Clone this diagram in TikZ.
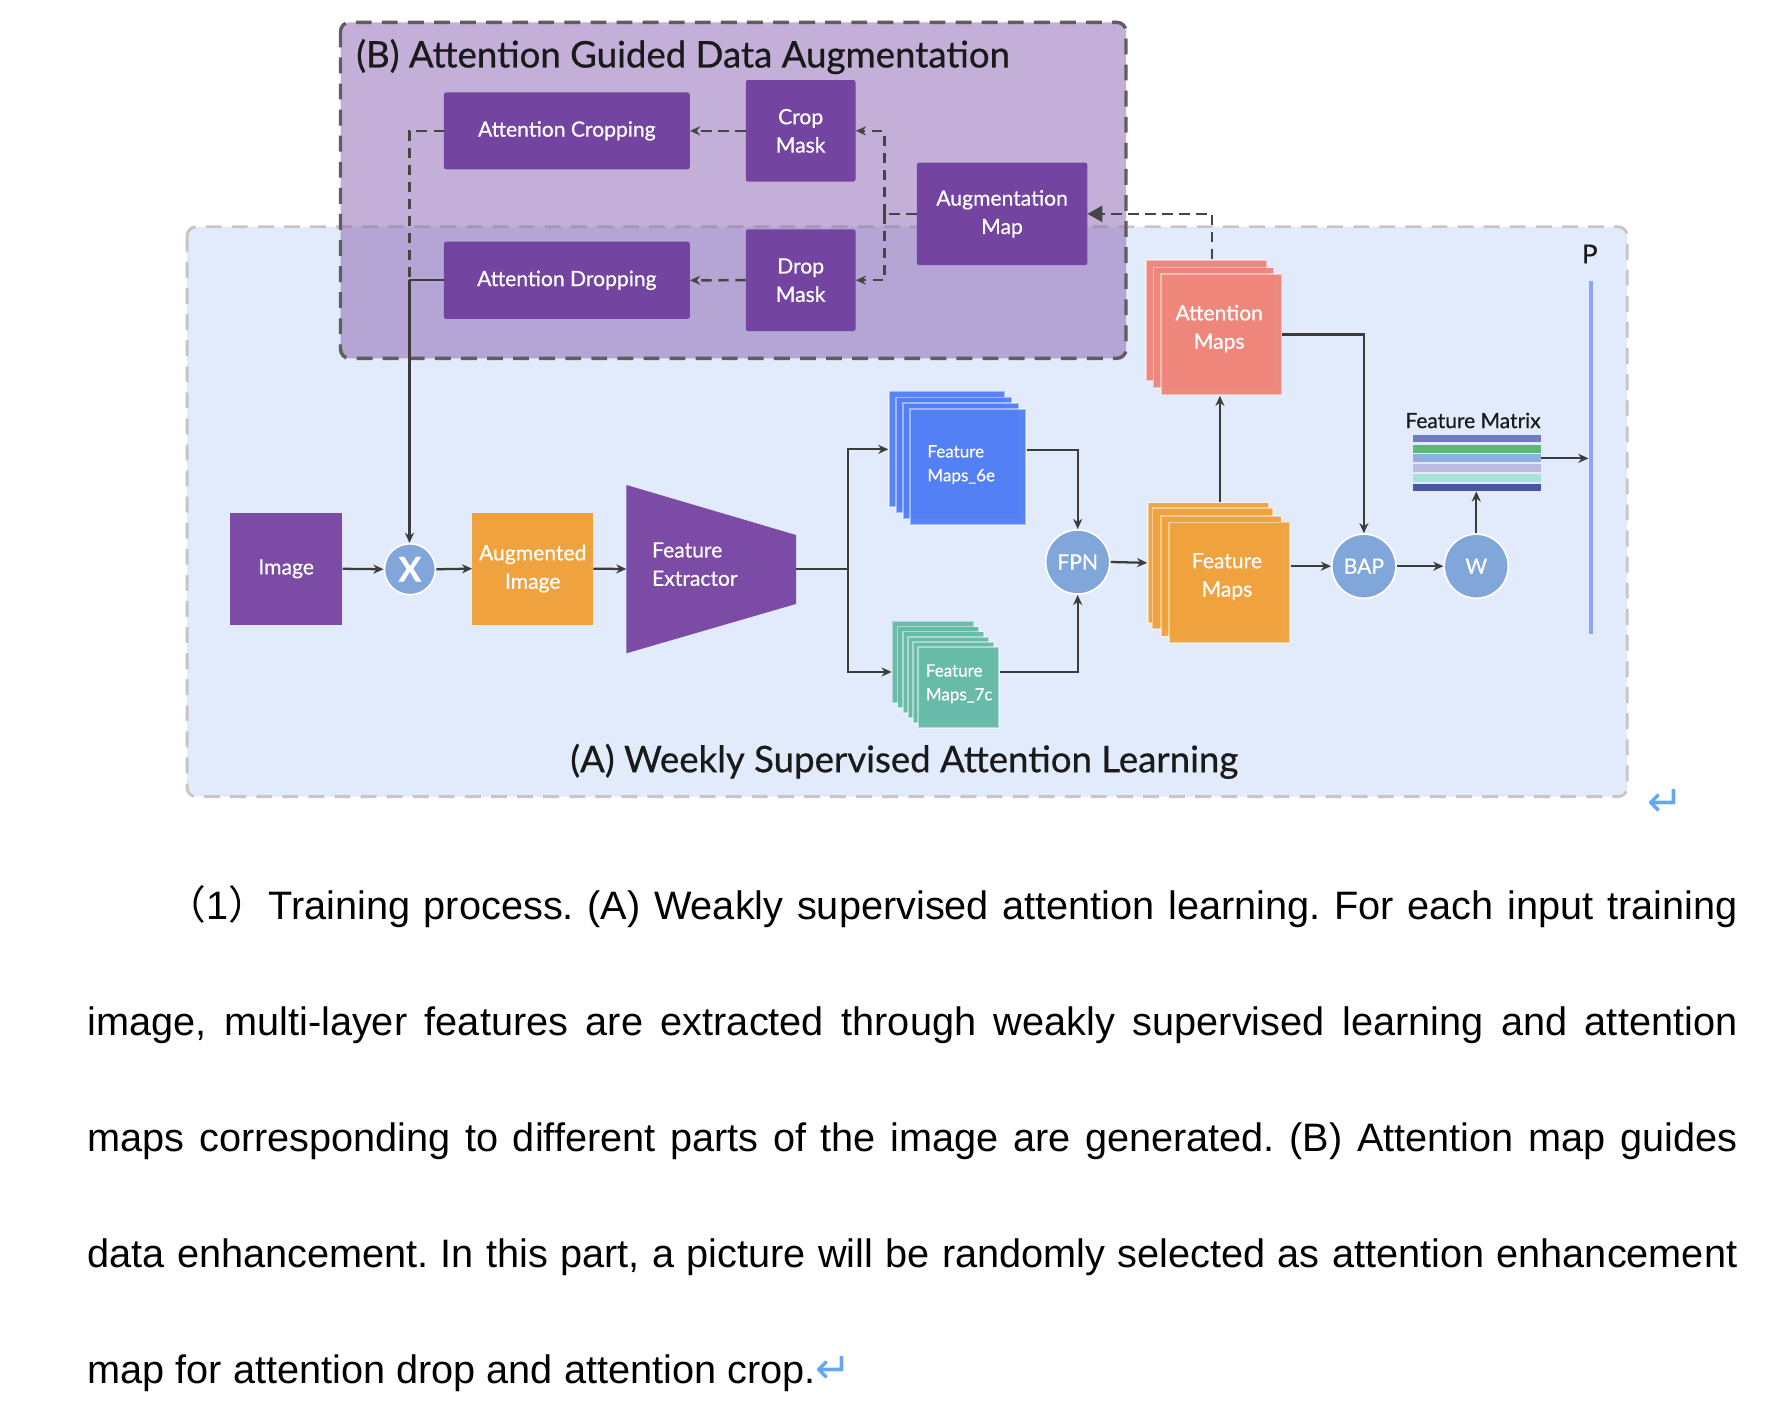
\documentclass[tikz,border=0pt]{standalone}
\usepackage{fontspec}
\setmainfont{Lato}[FakeBold=0.6]
\newfontfamily\parafont{Liberation Sans}
\newfontfamily\cjkfont{Noto Sans CJK SC}
\newfontfamily\symbfont{DejaVu Sans}
\usetikzlibrary{arrows.meta,calc}

\definecolor{regA}{HTML}{E1EBFB}
\definecolor{regAborder}{HTML}{C6C6C6}
\definecolor{regB}{HTML}{8961B1}
\definecolor{regBborder}{HTML}{5E5E5E}
\definecolor{dpurple}{HTML}{7445A0}
\definecolor{mpurple}{HTML}{7B4BA6}
\definecolor{orng}{HTML}{F0A23E}
\definecolor{cblue}{HTML}{80A6DA}
\definecolor{fblue}{HTML}{5480F5}
\definecolor{fteal}{HTML}{68BBA9}
\definecolor{salmon}{HTML}{EF867C}
\definecolor{pbarc}{HTML}{8FA5F5}
\definecolor{lnk}{HTML}{3C3C3C}
\definecolor{dashc}{HTML}{454545}
\definecolor{retblue}{HTML}{62A8F5}
\definecolor{sa}{HTML}{6E7CC3}
\definecolor{sb}{HTML}{5BB877}
\definecolor{sc}{HTML}{8EAFE0}
\definecolor{sd}{HTML}{BBBBE0}
\definecolor{se}{HTML}{A7E1D8}
\definecolor{sf}{HTML}{4A569F}
\definecolor{ink}{HTML}{1A1A1A}

\newcommand\lblfont{\fontsize{18.6}{25}\selectfont}
\newcommand\smlfont{\fontsize{15}{21}\selectfont}
\newcommand\ttlfont{\fontsize{32.3}{36}\selectfont}
\newcommand\parfont{\parafont\fontsize{35}{40}\selectfont\frenchspacing}

\tikzset{
  conn/.style={draw=lnk, line width=2pt},
  arr/.style={conn, -{Stealth[length=9pt,width=8pt]}},
  dconn/.style={draw=dashc, line width=2.2pt, dash pattern=on 9pt off 6pt},
  darr/.style={dconn, -{Stealth[length=9pt,width=8pt]}},
  pbox/.style={rectangle, rounded corners=2pt, fill=dpurple, text=white, font=\lblfont, align=center, inner sep=0pt},
  mbox/.style={rectangle, text=white, font=\lblfont, align=center, inner sep=0pt},
  circ/.style={circle, fill=cblue, draw=white, line width=1.5pt, text=white, font=\lblfont, inner sep=0pt, minimum size=56.6pt},
  card/.style={rectangle, draw=white, draw opacity=0.45, line width=1.5pt, inner sep=0pt, anchor=north west, fill opacity=0.96},
  stripe/.style={rectangle, inner sep=0pt, minimum width=112.8pt, minimum height=6.8pt, anchor=north west},
  txt/.style={inner sep=0pt, text=ink},
}

\begin{document}
\begin{tikzpicture}[x=1pt,y=-1pt]
\useasboundingbox (0,0) rectangle (1568,1243);
\fill[white] (0,0) rectangle (1568,1243);

% region A
\draw[fill=regA, draw=regAborder, line width=2.5pt, dash pattern=on 14pt off 9pt, rounded corners=8pt]
  (165,200) rectangle (1435,702.5);
% region B
\fill[regB, fill opacity=0.5, rounded corners=8pt] (300.3,19.7) rectangle (993,316);
\draw[draw=regBborder, line width=3pt, dash pattern=on 14pt off 9pt, rounded corners=8pt]
  (300.3,19.7) rectangle (993,316);

\node[txt, anchor=base west, font=\ttlfont] (titleB) at (314,59.5) {(B) Attention Guided Data Augmentation};
\node[txt, anchor=base, font=\ttlfont] (titleA) at (797.5,681) {(A) Weekly Supervised Attention Learning};

% B boxes
\node[pbox, minimum width=216.8pt, minimum height=67.9pt] (crop) at (499.9,115.4) {Attention Cropping};
\node[pbox, minimum width=96.8pt, minimum height=89.7pt] (cropmask) at (706.1,115.4) {Crop\\Mask};
\node[pbox, minimum width=216.8pt, minimum height=68.2pt] (drop) at (499.9,247.2) {Attention Dropping};
\node[pbox, minimum width=96.8pt, minimum height=89.7pt] (dropmask) at (706.1,247.1) {Drop\\Mask};
\node[pbox, minimum width=150.3pt, minimum height=90.3pt] (augmap) at (883.7,188.6) {Augmentation\\Map};

% main row
\node[mbox, fill=mpurple, minimum width=99.2pt, minimum height=99pt] (image) at (252.4,501.6) {Image};
\node[circ, minimum size=45pt, font=\fontsize{30}{30}\selectfont\bfseries] (xop) at (361.5,502) {X};
\node[mbox, fill=orng, minimum width=106.4pt, minimum height=99pt] (augimg) at (469.8,501.5) {Augmented\\Image};
\fill[mpurple] (552.4,427.7) -- (702,471.8) -- (702,532.6) -- (552.4,576.1) -- cycle;
\coordinate (fein) at (552.4,501.8);
\coordinate (feout) at (702,501.8);
\node[inner sep=0pt, anchor=west, text=white, font=\lblfont, align=left] (fe) at (574.9,497.5) {Feature\\Extractor};

% Feature Maps_6e stack
\foreach \i in {0,1,2}
  \node[card, fill=fblue, minimum width=102pt, minimum height=102pt] (f6e\i) at ({783.4+6.17*\i},{344.5+5.2*\i}) {};
\node[card, fill=fblue, minimum width=102pt, minimum height=102pt] (f6e) at (801.9,360.1) {};
\node[inner sep=0pt, anchor=west, text=white, font=\smlfont, align=left] (f6et) at (817.7,409.8) {Feature\\Maps\_6e};

% Feature Maps_7c stack
\foreach \i in {0,...,4}
  \node[card, fill=fteal, minimum width=71.5pt, minimum height=71.7pt] (f7c\i) at ({786.3+4.52*\i},{547.3+4.48*\i}) {};
\node[card, fill=fteal, minimum width=71.5pt, minimum height=71.7pt] (f7c) at (808.9,569.7) {};
\node[inner sep=0pt, anchor=west, text=white, font=\smlfont, align=left] (f7ct) at (816.3,603) {Feature\\Maps\_7c};

% FPN
\node[circ] (fpn) at (950.4,495.6) {FPN};

% Feature Maps stack (orange)
\node[card, fill=orng, minimum width=106.4pt, minimum height=106.4pt] (fm0) at (1011.7,442.4) {};
\node[card, fill=orng, minimum width=106.4pt, minimum height=106.4pt] (fm1) at (1015.6,447.4) {};
\node[card, fill=orng, minimum width=106.4pt, minimum height=106.4pt] (fm2) at (1022.9,454.1) {};
\node[card, fill=orng, minimum width=106.4pt, minimum height=106.4pt] (fm) at (1030.3,460) {};
\node[inner sep=0pt, text=white, font=\lblfont, align=center] (fmt) at (1082,508.5) {Feature\\Maps};

% Attention Maps stack
\node[card, fill=salmon, minimum width=106.5pt, minimum height=106.5pt] (am0) at (1009.7,228.7) {};
\node[card, fill=salmon, minimum width=106.5pt, minimum height=106.5pt] (am1) at (1016.4,235.2) {};
\node[card, fill=salmon, minimum width=106.5pt, minimum height=106.5pt] (am) at (1023,241) {};
\node[inner sep=0pt, text=white, font=\lblfont, align=center] (amt) at (1075.2,289.8) {Attention\\Maps};

% BAP, W
\node[circ] (bap) at (1202.8,499.3) {BAP};
\node[circ] (wn) at (1301.9,499.3) {W};

% Feature matrix
\node[txt, anchor=base, font=\fontsize{18.5}{20}\selectfont] (fmlabel) at (1299,377.5) {Feature Matrix};
\node[stripe, fill=sa] (fmat1) at (1245.8,383) {};
\node[stripe, fill=sb] (fmat2) at (1245.8,392.1) {};
\node[stripe, fill=sc] (fmat3) at (1245.8,400.6) {};
\node[stripe, fill=sd] (fmat4) at (1245.8,409.2) {};
\node[stripe, fill=se] (fmat5) at (1245.8,417.7) {};
\node[stripe, fill=sf] (fmat6) at (1245.8,426.2) {};

% P bar
\node[rectangle, fill=pbarc, inner sep=0pt, minimum width=4pt, minimum height=311pt, anchor=north] (pbar) at (1403,248) {};
\node[txt, font=\fontsize{23}{23}\selectfont] (plabel) at (1402,224) {P};

% return symbol
\node[inner sep=0pt, text=retblue, font=\symbfont\fontsize{38}{38}\selectfont] (ret) at (1468.5,708.4) {↵};

% ---- connectors in B ----
\coordinate (bx) at (780,188.6);
\draw[dconn] (augmap.west) -- (bx);
\draw[darr] (bx) |- (cropmask.east);
\draw[darr] (bx) |- (dropmask.east);
\draw[darr] (cropmask.west) -- (crop.east);
\draw[darr] (dropmask.west) -- (drop.east);
\coordinate (lx) at (361.1,247.2);
\draw[dconn] (crop.west) -| (lx);
\draw[conn] (drop.west) -- (lx);
\draw[arr] (lx) -- (lx |- xop.north);

\coordinate (amtop) at (1069,0);
\draw[dconn, -{Triangle[length=13pt,width=14pt]}] (am0.north -| amtop) |- (augmap.east);

% ---- main connectors ----
\draw[arr] (image.east) -- (xop.west);
\draw[arr] (xop.east) -- (augimg.west);
\draw[arr] (augimg.east) -- (fein);
\coordinate (split) at (748,501.8);
\draw[conn] (feout) -- (split);
\draw[arr] (split) |- (f6e0.west);
\draw[arr] (split) |- ($(f7c0.west)+(0,8.7)$);
\draw[arr] ($(f6e.north east)+(0,36.7)$) -| (fpn.north);
\draw[arr] ($(f7c.east)+(0,-13.8)$) -| (fpn.south);
\draw[arr] (fpn.east) -- (fm0.west);
\coordinate (amx) at (1075.8,0);
\draw[arr] (fm0.north -| amx) -- (am.south -| amx);
\draw[arr] (am.east) -| (bap.north);
\draw[arr] (bap.west -| fm.east) -- (bap.west);
\draw[arr] (bap.east) -- (wn.west);
\draw[arr] (wn.north) -- (wn.north |- fmat6.south);
\draw[arr] (fmat3.east) -- (fmat3.east -| pbar.west);

% ---- paragraph ----
\node[inner sep=0pt, anchor=base west, font=\parfont] (l1) at (147,811.3)
  {\makebox[1385pt][s]{{\cjkfont （}1{\cjkfont ）}Training process. (A) Weakly supervised attention learning. For each input training}};
\node[inner sep=0pt, anchor=base west, font=\parfont] (l2) at (77,913.45)
  {\makebox[1455pt][s]{image, multi-layer features are extracted through weakly supervised learning and attention}};
\node[inner sep=0pt, anchor=base west, font=\parfont] (l3) at (77,1015.6)
  {\makebox[1455pt][s]{maps corresponding to different parts of the image are generated. (B) Attention map guides}};
\node[inner sep=0pt, anchor=base west, font=\parfont] (l4) at (77,1117.75)
  {\makebox[1455pt][s]{data enhancement. In this part, a picture will be randomly selected as attention enhancement}};
\node[inner sep=0pt, anchor=base west, font=\parfont] (l5) at (77,1219.9)
  {map for attention drop and attention crop.{\symbfont\fontsize{38}{38}\selectfont\color{retblue}↵}};
\end{tikzpicture}
\end{document}
